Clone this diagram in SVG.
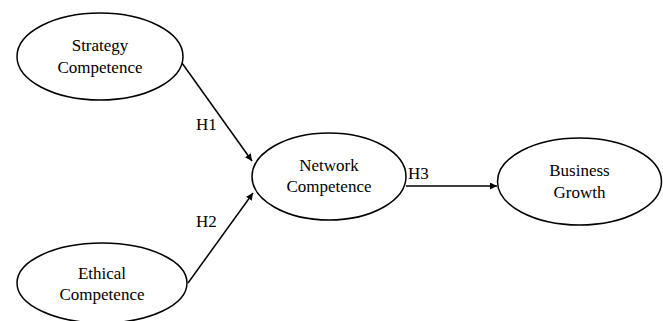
<svg xmlns="http://www.w3.org/2000/svg" width="663" height="321" viewBox="0 0 663 321">
<style>
.n{fill:#fff;stroke:#000;stroke-width:1.5}
.t{font-family:"Liberation Serif","Times New Roman",serif;font-size:17px;fill:#000;text-anchor:middle}
.l{font-family:"Liberation Serif","Times New Roman",serif;font-size:17px;fill:#000}
.c{stroke:#000;stroke-width:1.5;fill:none;marker-end:url(#ah)}
</style>
<defs>
<marker id="ah" viewBox="0 0 10 10" refX="10" refY="5" markerWidth="7" markerHeight="7" markerUnits="userSpaceOnUse" orient="auto">
<path d="M0,0 L10,5 L0,10 z" fill="#000"/>
</marker>
</defs>
<rect width="663" height="321" fill="#fff"/>
<g id="connectors">
<line class="c" x1="182" y1="63" x2="252" y2="161"/>
<line class="c" x1="188" y1="283" x2="253" y2="193"/>
<line class="c" x1="406" y1="186" x2="497" y2="186"/>
<text class="l" x="196" y="130">H1</text>
<text class="l" x="196" y="227">H2</text>
<text class="l" x="408" y="179">H3</text>
</g>
<g id="strategy">
<ellipse class="n" cx="100" cy="56.5" rx="83" ry="43.5"/>
<text class="t" x="100" y="51">Strategy</text>
<text class="t" x="100" y="73">Competence</text>
</g>
<g id="ethical">
<ellipse class="n" cx="102" cy="283" rx="85" ry="40"/>
<text class="t" x="102" y="279">Ethical</text>
<text class="t" x="102" y="300">Competence</text>
</g>
<g id="network">
<ellipse class="n" cx="329" cy="176.5" rx="77" ry="43.5"/>
<text class="t" x="329" y="171">Network</text>
<text class="t" x="329" y="192">Competence</text>
</g>
<g id="business">
<ellipse class="n" cx="579.5" cy="181.5" rx="82" ry="43.5"/>
<text class="t" x="579.5" y="176">Business</text>
<text class="t" x="579.5" y="198">Growth</text>
</g>
</svg>
